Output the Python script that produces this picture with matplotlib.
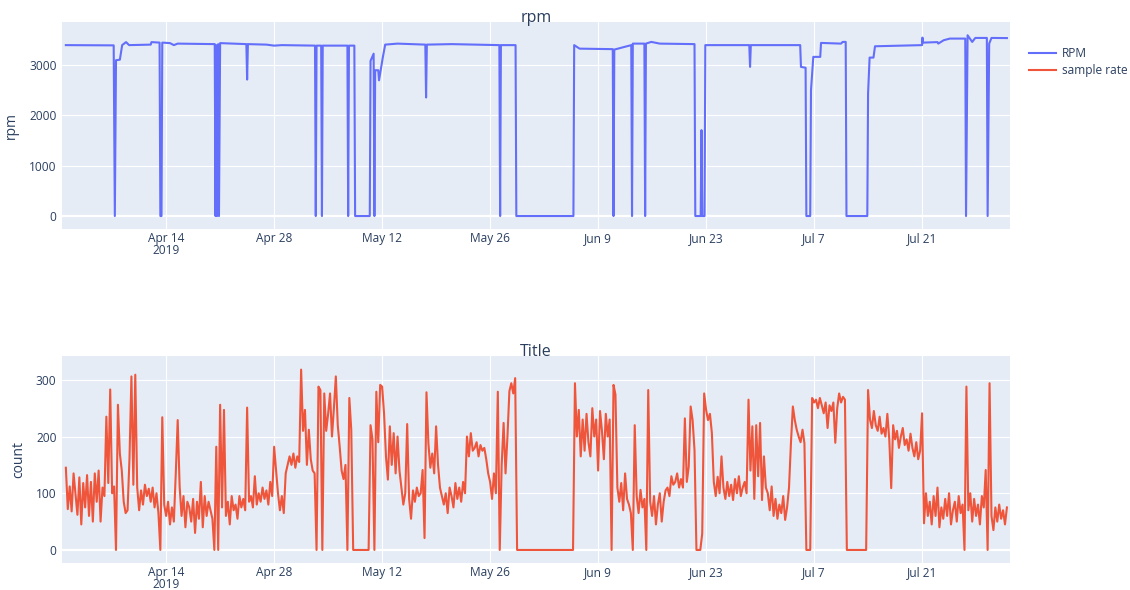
import matplotlib
matplotlib.use("Agg")
import matplotlib.pyplot as plt
import pandas as pd
import numpy as np

plt.rcParams['font.family'] = ['Open Sans', 'DejaVu Sans']

# ---------------- data ----------------
start_date = "2019-04-01"

# RPM: (day offset from Apr 1, value) breakpoints
rpm_days = [0.0, 6.2, 6.35, 6.5, 7.0, 7.3, 7.8, 8.2, 11.0, 11.1, 12.15, 12.25, 12.4, 12.5, 13.5, 14.0,
            14.5, 19.3, 19.4, 19.5, 19.6, 19.75, 19.85, 20.0, 23.4, 23.5, 23.6, 26.0, 27.0, 28.0,
            32.3, 32.4, 32.5, 33.1, 33.2, 33.3, 36.5, 36.6, 36.7, 37.4, 37.5, 39.4, 39.5, 39.9,
            40.0, 40.1, 40.5, 40.6, 41.1, 41.4, 43.0, 46.6, 46.7, 46.8, 50.0, 56.2, 56.3, 56.4,
            58.3, 58.4, 65.8, 65.9, 66.6, 70.9, 71.0, 71.1, 73.3, 73.4, 73.5, 75.0, 75.1, 75.2,
            75.9, 77.0, 81.5, 81.6, 82.3, 82.4, 82.5, 82.8, 82.9, 88.6, 88.7, 88.8, 95.2, 95.3,
            95.9, 96.0, 96.5, 96.6, 96.9, 97.8, 97.9, 100.5, 100.7, 101.1, 101.2, 103.9, 104.0,
            104.2, 104.7, 104.9, 111.0, 111.05, 111.1, 113.0, 113.1, 113.8, 114.6, 116.6, 116.7,
            116.9, 117.5, 117.9, 119.4, 119.5, 119.7, 120.0, 122.0]
rpm_vals = [3400, 3395, 0, 3100, 3110, 3400, 3460, 3400, 3410, 3460, 3450, 0, 0, 3450, 3440, 3400,
            3430, 3420, 0, 3400, 0, 3420, 0, 3440, 3420, 2715, 3420, 3410, 3390, 3400,
            3390, 0, 3390, 3390, 0, 3390, 3390, 0, 3390, 3390, 0, 0, 3086, 3230,
            0, 2900, 2900, 2700, 3165, 3410, 3430, 3410, 2358, 3410, 3420, 3400, 0, 3400,
            3400, 0, 0, 3400, 3330, 3320, 0, 3311, 3400, 0, 3430, 3430, 0, 3430,
            3464, 3430, 3420, 0, 0, 1709, 0, 0, 3400, 3400, 2967, 3400, 3400, 2967,
            2950, 0, 0, 2503, 3166, 3166, 3444, 3430, 3464, 3464, 0, 0, 2437,
            3152, 3152, 3377, 3400, 3550, 3450, 3460, 3430, 3497, 3530, 3530, 0,
            3596, 3464, 3543, 3543, 0, 3430, 3543, 3540]

# sample rate: one value every 6 hours from Apr 1 00:00 (4 per day)
sample_rate = [
    145, 72, 112, 68,   135, 98, 62, 128,   45, 118, 75, 132,   60, 120, 50, 135,   # d0-3
    85, 140, 50, 110,   95, 235, 118, 283,  100, 112, 0, 256,   170, 140, 85, 65,    # d4-7
    70, 162, 306, 115,  309, 110, 70, 105,  80, 115, 95, 108,   85, 110, 75, 100,    # d8-11
    65, 0, 234, 80,     60, 85, 45, 75,     50, 135, 229, 112,  60, 95, 40, 85,      # d12-15
    75, 50, 90, 30,     85, 55, 120, 40,    95, 60, 85, 70,     55, 0, 182, 0,       # d16-19
    256, 75, 247, 60,   85, 45, 95, 70,     80, 55, 95, 75,     90, 70, 251, 85,     # d20-23
    95, 75, 130, 80,    100, 85, 110, 90,   105, 80, 120, 95,   182, 140, 100, 70,   # d24-27
    95, 65, 135, 150,   165, 150, 170, 145, 165, 155, 318, 210, 247, 150, 212, 160,  # d28-31
    140, 135, 0, 288,   282, 0, 276, 210,   240, 276, 200, 250, 306, 220, 182, 140,  # d32-35
    125, 150, 0, 268,   212, 0, 0, 0,       0, 0, 0, 0,         0, 0, 220, 195,      # d36-39
    0, 279, 190, 291,   288, 241, 165, 124, 218, 150, 206, 135, 200, 140, 110, 80,   # d40-43
    100, 222, 90, 55,   105, 85, 110, 95,   100, 141, 21, 278,  188, 145, 170, 135,  # d44-47
    218, 150, 110, 95,  80, 100, 65, 110,   95, 75, 118, 90,    110, 85, 120, 100,   # d48-51
    200, 165, 206, 175, 180, 190, 165, 185, 175, 180, 160, 135, 120, 90, 135, 100,   # d52-55
    279, 0, 150, 224,   135, 200, 280, 294, 276, 303, 0, 0,     0, 0, 0, 0,          # d56-59
    0, 0, 0, 0,         0, 0, 0, 0,         0, 0, 0, 0,         0, 0, 0, 0,          # d60-63
    0, 0, 0, 0,         0, 0, 0, 0,         294, 200, 247, 165, 230, 175, 240, 190,  # d64-67
    165, 250, 200, 230, 140, 245, 210, 160, 240, 200, 230, 0,   291, 274, 110, 85,   # d68-71
    118, 70, 135, 90,   80, 65, 0, 220,     95, 65, 106, 75,    90, 0, 282, 85,      # d72-75
    60, 95, 45, 80,     100, 50, 85, 105,   110, 95, 130, 115,  120, 135, 110, 125,  # d76-79
    110, 232, 120, 147, 253, 229, 176, 0,   0, 0, 29, 276,      247, 229, 240, 206,  # d80-83
    120, 95, 129, 100,  165, 110, 90, 120,  95, 115, 88, 125,   100, 130, 95, 110,   # d84-87
    120, 100, 265, 140, 218, 90, 220, 130,  224, 88, 165, 110,  100, 70, 112, 60,    # d88-91
    90, 55, 80, 65,     95, 53, 75, 110,    188, 253, 229, 212, 200, 190, 212, 188,  # d92-95
    0, 0, 0, 268,       260, 265, 250, 268, 255, 241, 260, 215, 255, 245, 260, 189,  # d96-99
    250, 276, 260, 270, 265, 0, 0, 0,       0, 0, 0, 0,         0, 0, 0, 0,          # d100-103
    282, 230, 215, 245, 220, 210, 235, 205, 215, 200, 240, 195, 109, 220, 195, 210,  # d104-107
    180, 200, 215, 185, 195, 175, 205, 180, 165, 190, 160, 175, 241, 47, 100, 60,    # d108-111
    85, 45, 95, 60,     110, 40, 75, 55,    90, 60, 100, 45,    70, 85, 50, 95,      # d112-115
    65, 80, 0, 288,     70, 100, 50, 90,    60, 80, 45, 95,     75, 141, 0, 294,     # d116-119
    60, 35, 75, 50,     80, 55, 70, 45,     75,                                      # d120-122
]

tick_dates = ["2019-04-14", "2019-04-28", "2019-05-12", "2019-05-26",
              "2019-06-09", "2019-06-23", "2019-07-07", "2019-07-21"]

# ---------------- style ----------------
BG = "#E5ECF6"
TXT = "#2a3f5f"
C_RPM = "#636EFA"
C_SR = "#EF553B"

t0 = pd.Timestamp(start_date)
rpm_t = t0 + pd.to_timedelta(rpm_days, unit="D")
sr_t = pd.date_range(start_date, periods=len(sample_rate), freq="6h")

W, H = 1130, 590
fig = plt.figure(figsize=(W / 100, H / 100), dpi=100)

def px_axes(left, top, right, bottom):
    return fig.add_axes([left / W, 1 - bottom / H, (right - left) / W, (bottom - top) / H])

ax1 = px_axes(62, 22, 1010, 229)
ax2 = px_axes(62, 356, 1010, 563)

xlo = t0 + pd.Timedelta(days=-0.5)
xhi = t0 + pd.Timedelta(days=122.4)

tdates = pd.to_datetime(tick_dates)
tlabels = [d.strftime("%b ") + str(d.day) for d in tdates]
tlabels[0] = tlabels[0] + "\n2019"

def style(ax, yticks, ylabel, title):
    ax.set_facecolor(BG)
    for s in ax.spines.values():
        s.set_visible(False)
    ax.set_xlim(xlo, xhi)
    ax.set_xticks(tdates)
    ax.set_xticklabels(tlabels, fontsize=8.6, color=TXT, linespacing=0.95)
    ax.set_yticks(yticks)
    ax.set_yticklabels([str(v) for v in yticks], fontsize=8.6, color=TXT)
    ax.tick_params(axis="y", length=0, pad=4)
    ax.tick_params(axis="x", length=0, pad=2)
    ax.grid(True, color="white", linewidth=0.8)
    ax.set_axisbelow(True)
    ax.axhline(0, color="white", linewidth=1.6, zorder=1)
    ax.set_ylabel(ylabel, fontsize=10, color=TXT, labelpad=7)
    ax.annotate(title, xy=(0.5, 1.0), xycoords="axes fraction", xytext=(0, 0.3),
                textcoords="offset points", ha="center", va="baseline",
                fontsize=11.5, color=TXT)

ax1.plot(rpm_t, rpm_vals, color=C_RPM, linewidth=1.5, label="RPM", zorder=3)
ax1.set_ylim(-258, 3860)
style(ax1, [0, 1000, 2000, 3000], "rpm", "rpm")

ax2.plot(sr_t, sample_rate, color=C_SR, linewidth=1.5, label="sample rate", zorder=3)
ax2.set_ylim(-23, 342)
style(ax2, [0, 100, 200, 300], "count", "Title")

h1, l1 = ax1.get_legend_handles_labels()
h2, l2 = ax2.get_legend_handles_labels()
fig.legend(h1 + h2, l1 + l2, loc="upper left", bbox_to_anchor=(1024 / W, 1 - 42 / H),
           frameon=False, fontsize=8.6, labelcolor=TXT, handlelength=2.3,
           handletextpad=0.5, labelspacing=0.35, borderaxespad=0)

fig.savefig("out.png", dpi=100)
